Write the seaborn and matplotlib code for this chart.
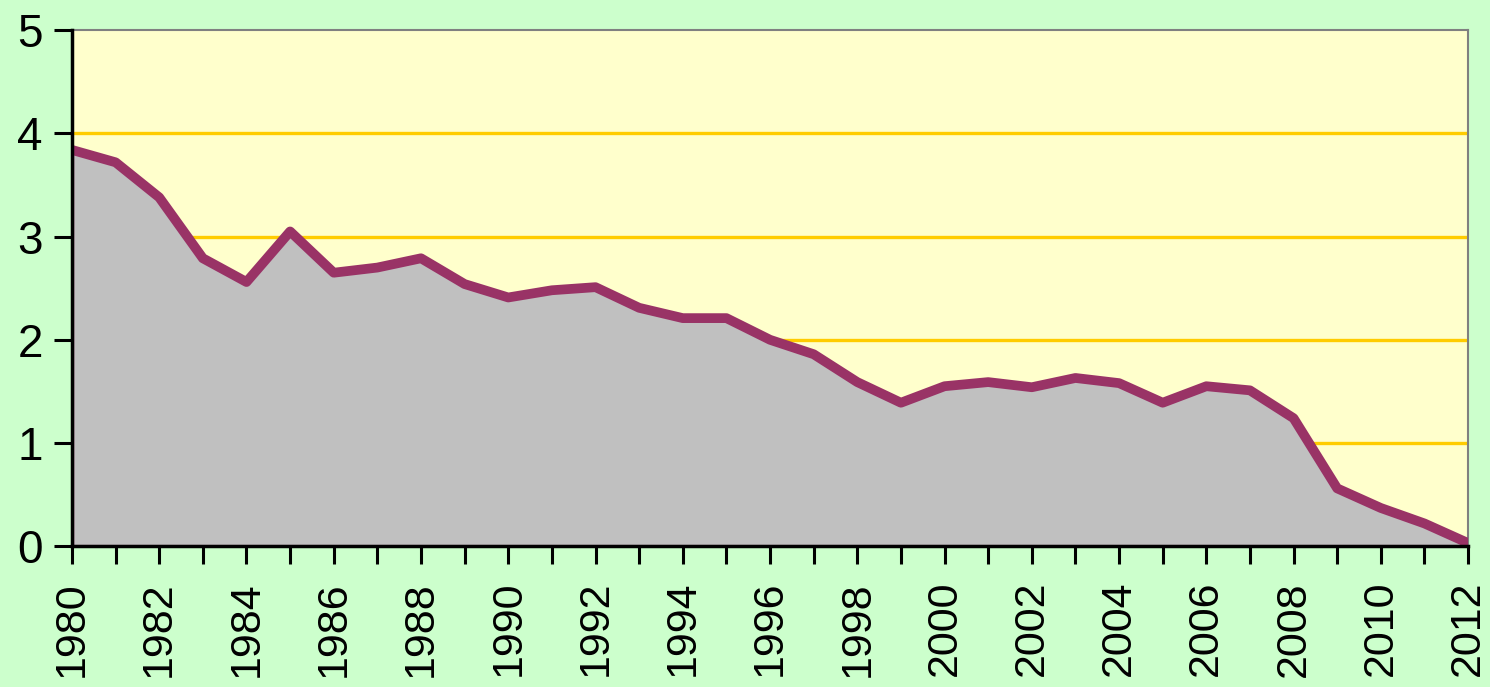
import numpy as np
import pandas as pd
import seaborn as sns
from matplotlib import pyplot as plt

years = list(range(1980, 2013))
values = [3.84, 3.72, 3.38, 2.79, 2.56, 3.05, 2.65, 2.70, 2.79, 2.54,
          2.41, 2.48, 2.51, 2.31, 2.21, 2.21, 2.00, 1.86, 1.59, 1.39,
          1.55, 1.59, 1.54, 1.63, 1.58, 1.39, 1.55, 1.51, 1.24, 0.56,
          0.37, 0.22, 0.03]
y_ticks = [0, 1, 2, 3, 4, 5]

df = pd.DataFrame({"year": years, "value": values})

sns.set_style("white")
plt.rcParams['font.family'] = ['Liberation Sans', 'DejaVu Sans']

fig = plt.figure(figsize=(14.9, 6.87), dpi=100, facecolor="#CCFFCC")
ax = fig.add_axes([0.0483, 0.205, 0.937, 0.751])
ax.set_facecolor("#FFFFCC")

# grid lines behind everything
for t in y_ticks[1:-1]:
    ax.axhline(t, color="#FFCC00", lw=2.4, zorder=1)

ax.fill_between(df["year"], df["value"], 0, facecolor="#C0C0C0",
                edgecolor="#993366", lw=2.5, zorder=2)
sns.lineplot(data=df, x="year", y="value", color="#993366", lw=7,
             ax=ax, zorder=3)

ax.set_xlim(1980, 2012)
ax.set_ylim(0, 5)
ax.set_yticks(y_ticks)
ax.set_yticklabels([str(t) for t in y_ticks], fontsize=33, color="black")
ax.set_xticks(years)
ax.set_xticklabels([str(y) if (y - 1980) % 2 == 0 else "" for y in years],
                   rotation=90, fontsize=31, color="black")
ax.set_xlabel("")
ax.set_ylabel("")

ax.tick_params(axis="both", direction="out", length=13, width=2.2,
               color="black", bottom=True, left=True)
ax.tick_params(axis="y", pad=8)
ax.tick_params(axis="x", pad=12)

for s in ["left", "bottom"]:
    ax.spines[s].set_color("black")
    ax.spines[s].set_linewidth(2.5)
    ax.spines[s].set_zorder(4)
for s in ["top", "right"]:
    ax.spines[s].set_color("#808080")
    ax.spines[s].set_linewidth(1.5)

fig.savefig("out.png", dpi=100, facecolor=fig.get_facecolor())
